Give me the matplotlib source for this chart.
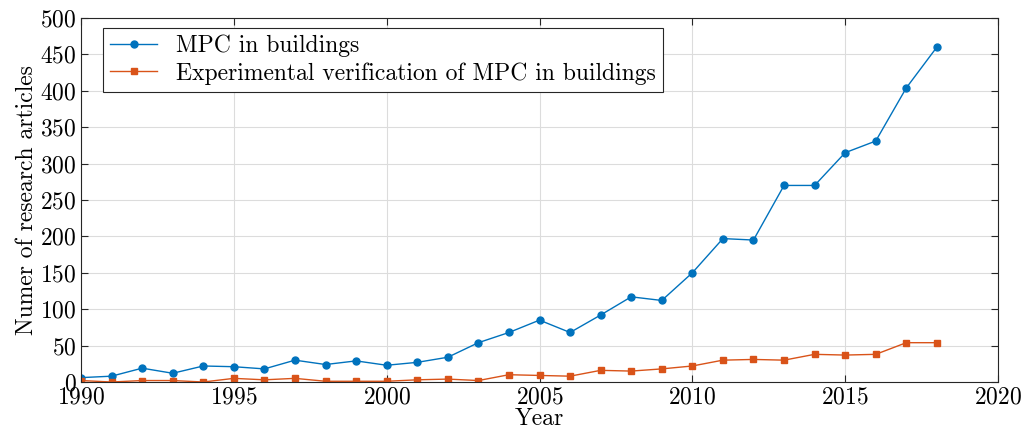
import matplotlib.pyplot as plt

plt.rcParams['font.family'] = 'serif'
plt.rcParams['font.serif'] = ['cmr10']
plt.rcParams['mathtext.fontset'] = 'cm'
plt.rcParams['axes.formatter.use_mathtext'] = True

years = list(range(1990, 2019))
mpc_buildings = [6, 8, 19, 12, 22, 21, 18, 30, 24, 29, 23, 27, 34, 54,
                 68, 85, 68, 92, 117, 112, 150, 197, 195, 270, 270,
                 315, 331, 404, 460]
mpc_experimental = [2, 0, 2, 2, 0, 5, 3, 5, 1, 1, 1, 3, 4, 2,
                    10, 9, 8, 16, 15, 18, 22, 30, 31, 30, 38,
                    37, 38, 54, 54]

fig = plt.figure(figsize=(10.26, 4.41), dpi=100)
ax = fig.add_axes([81 / 1026, 1 - 382 / 441, 917 / 1026, 364 / 441])

ax.plot(years, mpc_buildings, '-o', color='#0072BD', linewidth=1.0,
        markersize=5, label='MPC in buildings')
ax.plot(years, mpc_experimental, '-s', color='#D95319', linewidth=1.0,
        markersize=5, label='Experimental verification of MPC in buildings')

ax.set_xlim(1990, 2020)
ax.set_ylim(0, 500)
ax.set_xticks(range(1990, 2021, 5))
ax.set_yticks(range(0, 501, 50))
ax.grid(True, color='#dcdcdc', linewidth=0.8)
ax.set_axisbelow(True)
ax.tick_params(direction='in', top=True, right=True, labelsize=17,
               length=5, width=0.8, color='#262626', pad=3)
for s in ax.spines.values():
    s.set_color('#262626')
    s.set_linewidth(0.8)

ax.set_xlabel('Year', fontsize=17, labelpad=0)
ax.set_ylabel('Numer of research articles', fontsize=17, labelpad=2)

leg = ax.legend(loc='upper left', fontsize=17, fancybox=False,
                edgecolor='#262626', framealpha=1, borderpad=0.3,
                handlelength=2.0, labelspacing=0.2, borderaxespad=0,
                bbox_to_anchor=(0.024, 0.973))
leg.get_frame().set_linewidth(0.8)

fig.savefig('out.png', dpi=100)
